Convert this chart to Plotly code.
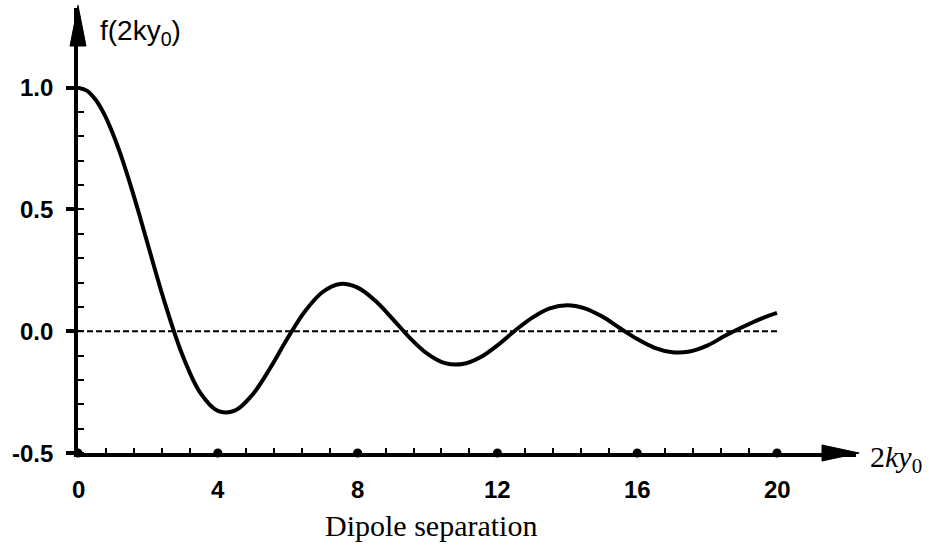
import plotly.graph_objects as go

# Dipole separation 2ky0 and the coupling function f(2ky0)
separation = [0.0, 0.25, 0.5, 0.75, 1.0, 1.25, 1.5, 1.75, 2.0, 2.5, 3.0, 3.5, 4.0, 4.5,
              5.0, 5.5, 6.0, 6.5, 7.0, 7.5, 8.0, 8.5, 9.0, 9.5, 10.0, 10.5, 11.0, 11.5,
              12.0, 12.5, 13.0, 13.5, 14.0, 14.5, 15.0, 15.5, 16.0, 16.5, 17.0, 17.5,
              18.0, 18.5, 19.0, 19.5, 20.0]
f_values = [1.000, 0.988, 0.951, 0.891, 0.810, 0.713, 0.601, 0.481, 0.355, 0.109,
            -0.102, -0.253, -0.327, -0.325, -0.259, -0.151, -0.028, 0.083, 0.161, 0.194,
            0.179, 0.126, 0.051, -0.028, -0.093, -0.131, -0.135, -0.108, -0.058, 0.002,
            0.056, 0.094, 0.107, 0.094, 0.060, 0.013, -0.032, -0.068, -0.086, -0.083,
            -0.059, -0.020, 0.016, 0.049, 0.075]

x_ticks = [0, 4, 8, 12, 16, 20]
y_ticks = [-0.5, 0.0, 0.5, 1.0]
y_tick_text = ["-0.5", "0.0", "0.5", "1.0"]
x_minor = [round(0.8 * i, 2) for i in range(26) if round(0.8 * i, 2) not in x_ticks]
y_minor = [round(-0.5 + 0.1 * i, 2) for i in range(16)]

X_MAX = 22.26
Y_MIN, Y_MAX = -0.5, 1.327

fig = go.Figure()

# zero reference line
fig.add_trace(go.Scatter(
    x=[separation[0], separation[-1]], y=[0, 0], mode="lines",
    line=dict(color="black", width=2, dash="6px,3px"), hoverinfo="skip"))

# f(2ky0) curve
fig.add_trace(go.Scatter(
    x=separation, y=f_values, mode="lines",
    line=dict(color="black", width=4, shape="spline", smoothing=1.0)))

# round markers at the major x ticks
fig.add_trace(go.Scatter(
    x=x_ticks, y=[Y_MIN] * len(x_ticks), mode="markers",
    marker=dict(color="black", size=9), cliponaxis=False, hoverinfo="skip"))

fig.update_layout(
    width=938, height=556,
    margin=dict(l=78, r=82, t=8, b=103),
    paper_bgcolor="white", plot_bgcolor="white",
    showlegend=False,
    xaxis=dict(
        range=[0, X_MAX], showgrid=False, zeroline=False,
        showline=True, linecolor="black", linewidth=4,
        tickmode="array", tickvals=x_ticks, ticks="", showticklabels=False,
        minor=dict(tickmode="array", tickvals=x_minor, ticks="inside",
                   ticklen=5, tickwidth=2, tickcolor="black", showgrid=False),
    ),
    yaxis=dict(
        range=[Y_MIN, Y_MAX], showgrid=False, zeroline=False,
        showline=True, linecolor="black", linewidth=4,
        tickmode="array", tickvals=y_ticks, showticklabels=False,
        ticks="outside", ticklen=8, tickwidth=4, tickcolor="black",
        minor=dict(tickmode="array", tickvals=y_minor, ticks="inside",
                   ticklen=6, tickwidth=2, tickcolor="black", showgrid=False),
    ),
)

plot_w = 938 - 78 - 82
plot_h = 556 - 8 - 103

# tick labels, bold sans
label_font = dict(family="Liberation Sans, Arial", size=24, color="black", weight="bold")
for v in x_ticks:
    fig.add_annotation(xref="x", yref="paper", x=v, y=-36 / plot_h,
                       xanchor="center", yanchor="middle", showarrow=False,
                       text=f"<b>{v}</b>", font=label_font)
for v, t in zip(y_ticks, y_tick_text):
    fig.add_annotation(xref="paper", yref="y", x=-23 / plot_w, y=v,
                       xanchor="right", yanchor="middle", showarrow=False,
                       text=f"<b>{t}</b>", font=label_font)

# arrowheads at the ends of both axes
hx, hw = 34 / plot_w, 8 / plot_h
fig.add_shape(type="path", xref="paper", yref="paper",
              path=f"M 1.004 0 L {1 - hx} {hw} L {1 - hx} {-hw} Z",
              fillcolor="black", line=dict(color="black", width=1))
vy, vw = 38 / plot_h, 8 / plot_w
fig.add_shape(type="path", xref="paper", yref="paper",
              path=f"M 0 1.006 L {-vw} {1 - vy} L {vw} {1 - vy} Z",
              fillcolor="black", line=dict(color="black", width=1))

# axis titles
fig.add_annotation(xref="paper", yref="paper", x=20 / plot_w, y=1 - 24 / plot_h,
                   xanchor="left", yanchor="middle", showarrow=False,
                   text="f(2ky<sub>0</sub>)",
                   font=dict(family="Liberation Sans, Arial", size=28, color="black"))
fig.add_annotation(xref="paper", yref="paper", x=1 + 12 / plot_w, y=-6 / plot_h,
                   xanchor="left", yanchor="middle", showarrow=False,
                   text="2<i>ky</i><sub>0</sub>",
                   font=dict(family="Liberation Serif, Times New Roman", size=30, color="black"))
fig.add_annotation(xref="paper", yref="paper", x=(431 - 78) / plot_w, y=-(525 - 453) / plot_h,
                   xanchor="center", yanchor="middle", showarrow=False,
                   text="Dipole separation",
                   font=dict(family="Liberation Serif, Times New Roman", size=30, color="black"))

fig.write_html("out.html")
